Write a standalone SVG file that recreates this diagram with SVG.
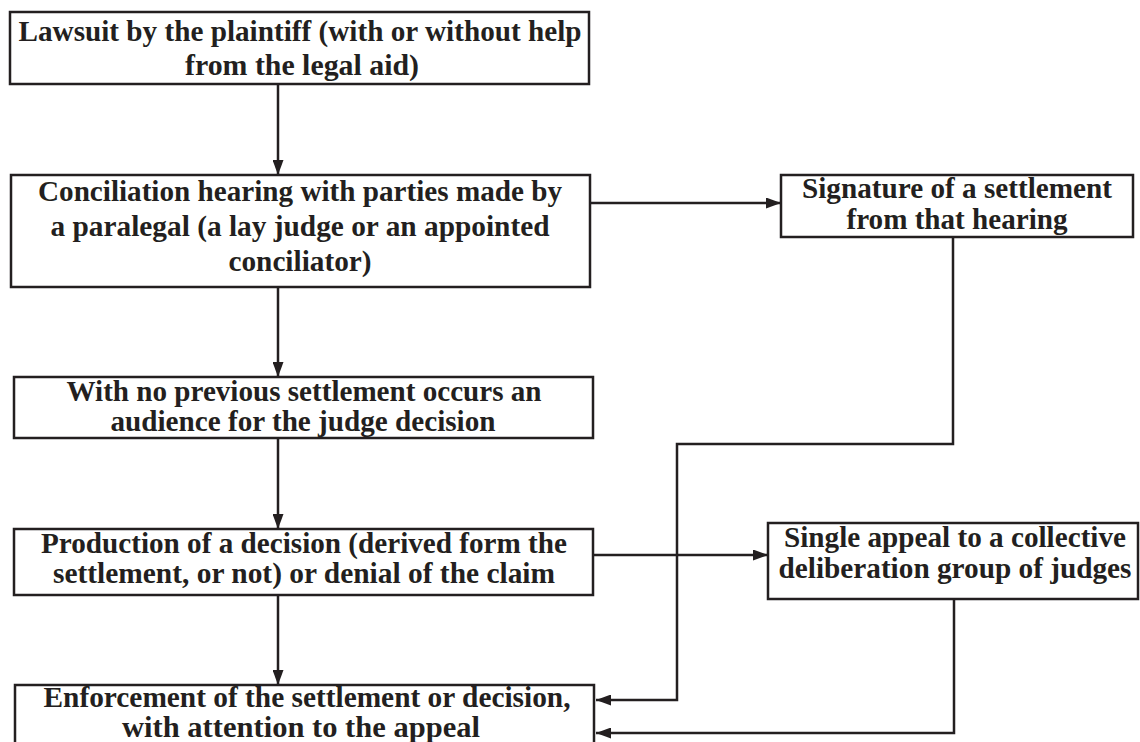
<svg xmlns="http://www.w3.org/2000/svg" width="1140" height="742" viewBox="0 0 1140 742">
<style>
.box{fill:#ffffff;stroke:#231f20;stroke-width:2.5}
.t{font-family:"Liberation Serif","Times New Roman",serif;font-weight:bold;font-size:30px;fill:#231f20;text-anchor:middle}
.c{fill:none;stroke:#231f20;stroke-width:2.5}
</style>
<defs>
<marker id="ah" viewBox="0 0 15 11" refX="15" refY="5.5" markerWidth="15" markerHeight="11" markerUnits="userSpaceOnUse" orient="auto">
<path d="M0,0 L15,5.5 L0,11 z" fill="#231f20"/>
</marker>
</defs>
<rect width="1140" height="742" fill="#ffffff"/>
<g id="connectors">
<line class="c" x1="278" y1="84" x2="278" y2="175" marker-end="url(#ah)"/>
<line class="c" x1="590" y1="203" x2="781" y2="203" marker-end="url(#ah)"/>
<line class="c" x1="278" y1="287" x2="278" y2="377" marker-end="url(#ah)"/>
<line class="c" x1="278" y1="438" x2="278" y2="529" marker-end="url(#ah)"/>
<line class="c" x1="278" y1="595" x2="278" y2="685" marker-end="url(#ah)"/>
<line class="c" x1="593" y1="555" x2="768" y2="555" marker-end="url(#ah)"/>
<polyline class="c" points="953,237 953,444 677,444 677,700 596,700" marker-end="url(#ah)"/>
<polyline class="c" points="954,599 954,733 596,733" marker-end="url(#ah)"/>
</g>
<g id="n1">
<rect class="box" x="10" y="12" width="579" height="72"/>
<text class="t" x="300" y="41" textLength="563" lengthAdjust="spacingAndGlyphs">Lawsuit by the plaintiff (with or without help</text>
<text class="t" x="302" y="75" textLength="234" lengthAdjust="spacingAndGlyphs">from the legal aid)</text>
</g>
<g id="n2">
<rect class="box" x="11" y="175" width="579" height="112"/>
<text class="t" x="300" y="201" textLength="524" lengthAdjust="spacingAndGlyphs">Conciliation hearing with parties made by</text>
<text class="t" x="300" y="236" textLength="499" lengthAdjust="spacingAndGlyphs">a paralegal (a lay judge or an appointed</text>
<text class="t" x="300" y="271" textLength="143" lengthAdjust="spacingAndGlyphs">conciliator)</text>
</g>
<g id="n3">
<rect class="box" x="781" y="175" width="352" height="62"/>
<text class="t" x="957" y="198" textLength="310" lengthAdjust="spacingAndGlyphs">Signature of a settlement</text>
<text class="t" x="957" y="229" textLength="221" lengthAdjust="spacingAndGlyphs">from that hearing</text>
</g>
<g id="n4">
<rect class="box" x="14" y="377" width="579" height="61"/>
<text class="t" x="304" y="401" textLength="475" lengthAdjust="spacingAndGlyphs">With no previous settlement occurs an</text>
<text class="t" x="303" y="431" textLength="385" lengthAdjust="spacingAndGlyphs">audience for the judge decision</text>
</g>
<g id="n5">
<rect class="box" x="14" y="529" width="579" height="66"/>
<text class="t" x="304" y="553" textLength="526" lengthAdjust="spacingAndGlyphs">Production of a decision (derived form the</text>
<text class="t" x="304" y="583" textLength="502" lengthAdjust="spacingAndGlyphs">settlement, or not) or denial of the claim</text>
</g>
<g id="n6">
<rect class="box" x="768" y="523" width="370" height="76"/>
<text class="t" x="955" y="547" textLength="342" lengthAdjust="spacingAndGlyphs">Single appeal to a collective</text>
<text class="t" x="955" y="578" textLength="353" lengthAdjust="spacingAndGlyphs">deliberation group of judges</text>
</g>
<g id="n7">
<rect class="box" x="15" y="685" width="579" height="80"/>
<text class="t" x="307" y="707" textLength="527" lengthAdjust="spacingAndGlyphs">Enforcement of the settlement or decision,</text>
<text class="t" x="301" y="737" textLength="358" lengthAdjust="spacingAndGlyphs">with attention to the appeal</text>
</g>
</svg>
